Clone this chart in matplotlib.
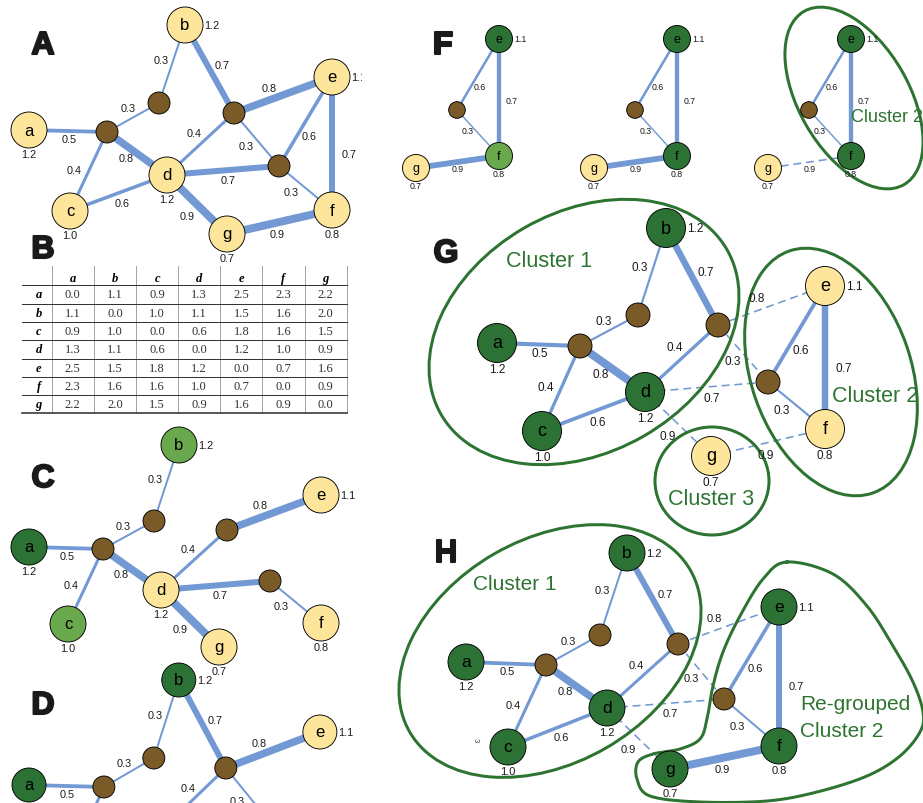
import numpy as np
import matplotlib.pyplot as plt
from matplotlib.patches import Circle, Ellipse, Rectangle
import matplotlib.patheffects as pe

plt.rcParams['font.family'] = ['Liberation Sans', 'DejaVu Sans']

# ---------------- data ----------------
letters = ['a', 'b', 'c', 'd', 'e', 'f', 'g']
letter_values = [1.2, 1.2, 1.0, 1.2, 1.1, 0.8, 0.7]
hubs = ['h1', 'h2', 'h3', 'h4']

edge_pairs = [('a', 'h1'), ('h1', 'h2'), ('h2', 'b'), ('h1', 'c'), ('h1', 'd'), ('c', 'd'),
              ('b', 'h3'), ('h3', 'e'), ('h3', 'd'), ('h3', 'h4'), ('d', 'h4'), ('h4', 'e'),
              ('h4', 'f'), ('e', 'f'), ('d', 'g'), ('g', 'f')]
edge_weights = [0.5, 0.3, 0.3, 0.4, 0.8, 0.6, 0.7, 0.8, 0.4, 0.3, 0.7, 0.6, 0.3, 0.7, 0.9, 0.9]

# distance table (panel B)
dist = [[0.0, 1.1, 0.9, 1.3, 2.5, 2.3, 2.2],
        [1.1, 0.0, 1.0, 1.1, 1.5, 1.6, 2.0],
        [0.9, 1.0, 0.0, 0.6, 1.8, 1.6, 1.5],
        [1.3, 1.1, 0.6, 0.0, 1.2, 1.0, 0.9],
        [2.5, 1.5, 1.8, 1.2, 0.0, 0.7, 1.6],
        [2.3, 1.6, 1.6, 1.0, 0.7, 0.0, 0.9],
        [2.2, 2.0, 1.5, 0.9, 1.6, 0.9, 0.0]]

# node layouts (pixel positions of each panel)
layout_A = {'a': (29, 131), 'b': (185, 26), 'c': (70, 212), 'd': (167, 176), 'e': (332, 78),
            'f': (332, 211), 'g': (227, 235), 'h1': (107, 133), 'h2': (159, 104),
            'h3': (234, 114), 'h4': (279, 167)}
layout_C = {'a': (29, 548), 'b': (179, 446), 'c': (68, 625), 'd': (161, 591), 'e': (321, 496),
            'f': (321, 624), 'g': (219, 648), 'h1': (103, 550), 'h2': (154, 522),
            'h3': (227, 531), 'h4': (270, 582)}
layout_D = {k: (29 + (x - 29) * 0.96, y + 655) for k, (x, y) in layout_A.items()}
layout_F = {'e': (499, 40), 'h4': (457, 111), 'f': (499, 157), 'g': (416, 169)}
layout_G = {'a': (497, 344), 'b': (666, 229), 'c': (542, 432), 'd': (645, 393), 'e': (825, 287),
            'f': (825, 430), 'g': (711, 457), 'h1': (580, 347), 'h2': (638, 316),
            'h3': (718, 326), 'h4': (768, 383)}
layout_H = {'a': (466, 663), 'b': (627, 554), 'c': (508, 748), 'd': (607, 709), 'e': (779, 608),
            'f': (779, 747), 'g': (670, 770), 'h1': (546, 666), 'h2': (600, 636),
            'h3': (678, 645), 'h4': (724, 700)}

# outline of the re-grouped cluster in H
regroup_outline = [(787, 563), (833, 575), (867, 607), (893, 647), (913, 683), (923, 713),
                   (920, 733), (900, 757), (867, 777), (817, 793), (767, 802), (700, 803),
                   (650, 797), (637, 780), (638, 763), (653, 755), (680, 750), (700, 740),
                   (707, 720), (713, 687), (723, 653), (740, 617), (763, 580)]

# ---------------- style ----------------
YEL = '#FDE59B'
DKG = '#2C7234'
LTG = '#69A84D'
HUB = '#7A5A27'
EDGE = '#7299D3'
CLU = '#2E7431'
PX = 0.72  # points per pixel

WIDTH_PX = {0.3: 2.0, 0.4: 3.0, 0.5: 3.8, 0.6: 3.5, 0.7: 6.0, 0.8: 7.5, 0.9: 8.0}
LABEL_OFF = {('a', 'h1'): (1, 8), ('h1', 'h2'): (-5, -9), ('h2', 'b'): (-11, -4),
             ('h1', 'c'): (-14, -1), ('h1', 'd'): (-11, 5), ('c', 'd'): (4, 10),
             ('b', 'h3'): (13, -4), ('h3', 'e'): (-14, -7), ('h3', 'd'): (-6, -11),
             ('h3', 'h4'): (-10, 7), ('d', 'h4'): (5, 10), ('h4', 'e'): (4, 15),
             ('h4', 'f'): (-14, 4), ('e', 'f'): (17, 10), ('d', 'g'): (-10, 11),
             ('g', 'f'): (-2, 12)}
F_OFF = {('h4', 'e'): (2, 12), ('h4', 'f'): (-10, -2), ('e', 'f'): (13, 3), ('g', 'f'): (0, 7)}

fig = plt.figure(figsize=(9.23, 8.04), dpi=100)
ax = fig.add_axes([0, 0, 1, 1])
ax.set_xlim(0, 923)
ax.set_ylim(804, 0)
ax.axis('off')


def draw_graph(pos, colors, r_big, r_hub, scale, fs_node, fs_lab, dashed=(), hidden=(),
               offsets=None, clip=None):
    for (u, v), w in zip(edge_pairs, edge_weights):
        if u not in pos or v not in pos or (u, v) in hidden:
            continue
        (x1, y1), (x2, y2) = pos[u], pos[v]
        if (u, v) in dashed:
            ax.plot([x1, x2], [y1, y2], color=EDGE, lw=1.6 * PX, dashes=(5, 3), zorder=1)
        else:
            ax.plot([x1, x2], [y1, y2], color=EDGE, lw=WIDTH_PX[w] * scale * PX, zorder=1,
                    solid_capstyle='butt')
        if offsets is not None:
            dx, dy = offsets[(u, v)]
        else:
            dx, dy = LABEL_OFF[(u, v)][0] * scale, LABEL_OFF[(u, v)][1] * scale
        ax.text((x1 + x2) / 2 + dx, (y1 + y2) / 2 + dy, f'{w:.1f}', fontsize=fs_lab,
                ha='center', va='center', color='#1a1a1a', zorder=5)
    for h in hubs:
        if h in pos:
            ax.add_patch(Circle(pos[h], r_hub, fc=HUB, ec='black', lw=0.9 * PX, zorder=3))
    for name, val in zip(letters, letter_values):
        if name not in pos:
            continue
        x, y = pos[name]
        ax.add_patch(Circle((x, y), r_big, fc=colors.get(name, YEL), ec='black',
                            lw=0.9 * PX, zorder=3))
        ax.text(x, y, name, fontsize=fs_node, ha='center', va='center', zorder=4)
        if name in ('b', 'e'):
            t = ax.text(x + r_big + 1.5, y, f'{val:.1f}', fontsize=fs_lab, ha='left',
                        va='center', color='#1a1a1a', zorder=5)
        else:
            t = ax.text(x, y + r_big + 6 * scale, f'{val:.1f}', fontsize=fs_lab, ha='center',
                        va='center', color='#1a1a1a', zorder=5)
        if clip is not None:
            t.set_clip_path(clip)
            t.set_clip_on(True)


def panel_letter(x, y, s):
    ax.text(x, y, s, fontsize=23, fontweight='bold', ha='center', va='baseline',
            color='#1a1a1a', path_effects=[pe.withStroke(linewidth=1.5, foreground='#1a1a1a')])


def smooth_closed(pts, n=16):
    p = np.asarray(pts, float)
    m = len(p)
    t = np.linspace(0, 1, n, endpoint=False)[:, None]
    out = []
    for i in range(m):
        p0, p1, p2, p3 = p[i - 1], p[i], p[(i + 1) % m], p[(i + 2) % m]
        out.append(0.5 * (2 * p1 + (-p0 + p2) * t + (2 * p0 - 5 * p1 + 4 * p2 - p3) * t ** 2
                          + (-p0 + 3 * p1 - 3 * p2 + p3) * t ** 3))
    out = np.vstack(out)
    return np.vstack([out, out[:1]])


# ---- A ----
clipA = Rectangle((0, 0), 362, 275, transform=ax.transData)
draw_graph(layout_A, {}, 18, 11, 1.0, 12, 7.8, clip=clipA)
panel_letter(43, 55, 'A')

# ---- B (table) ----
panel_letter(43, 259, 'B')
x_left, x_lab, col_w = 22, 51.7, 42.15
y_top, y_head, row_h = 267, 286.3, 18.3
for j in range(8):
    xv = x_lab + j * col_w
    ax.plot([xv, xv], [y_top, y_head + 7 * row_h], color='#9a9a9a', lw=0.9 * PX, zorder=1)
for i in range(8):
    yv = y_head + i * row_h
    ax.plot([x_left, x_lab + 7 * col_w], [yv, yv], color='#333333',
            lw=(1.6 if i == 7 else 1.0) * PX, zorder=2)
for j, name in enumerate(letters):
    ax.text(x_lab + (j + 0.5) * col_w, (y_top + y_head) / 2 + 2, name, family='Liberation Serif',
            fontsize=9, fontweight='bold', style='italic', ha='center', va='center')
for i, name in enumerate(letters):
    yc = y_head + (i + 0.5) * row_h
    ax.text((x_left + x_lab) / 2 + 2, yc, name, family='Liberation Serif', fontsize=9,
            fontweight='bold', style='italic', ha='center', va='center')
    for j in range(7):
        ax.text(x_lab + (j + 0.5) * col_w, yc, f'{dist[i][j]:.1f}', family='Liberation Serif',
                fontsize=9, ha='center', va='center', color='#333333')

# ---- C ----
draw_graph(layout_C, {'a': DKG, 'b': LTG, 'c': LTG}, 18, 11, 1.0, 12, 7.8,
           hidden={('c', 'd'), ('b', 'h3'), ('h3', 'h4'), ('h4', 'e'), ('e', 'f'), ('g', 'f')})
panel_letter(43, 488, 'C')

# ---- D ----
draw_graph(layout_D, {'a': DKG, 'b': DKG}, 17, 11, 1.0, 12, 7.8,
           hidden={('h1', 'd'), ('c', 'd'), ('h4', 'e'), ('e', 'f')})
panel_letter(43, 715, 'D')

# ---- F ----
for k, (shift, cols, dsh) in enumerate([(0, {'e': DKG, 'f': LTG}, ()),
                                        (178, {'e': DKG, 'f': DKG}, ()),
                                        (352, {'e': DKG, 'f': DKG}, {('g', 'f')})]):
    pos = {n: (x + shift, y) for n, (x, y) in layout_F.items()}
    draw_graph(pos, cols, 13.5, 8.3, 0.72, 9, 6.3, dashed=dsh, offsets=F_OFF)
panel_letter(443, 55, 'F')
ax.add_patch(Ellipse((854, 99), 200, 110, angle=60, fill=False, ec=CLU, lw=3 * PX, zorder=2))
ax.text(851, 118, 'Cluster 2', fontsize=13, color=CLU, ha='left', va='center', zorder=5)

# ---- G ----
draw_graph(layout_G, {'a': DKG, 'b': DKG, 'c': DKG, 'd': DKG}, 19.5, 12, 1.08, 13, 8.5,
           dashed={('h3', 'e'), ('h3', 'h4'), ('d', 'h4'), ('d', 'g'), ('g', 'f')})
panel_letter(446, 263, 'G')
ax.add_patch(Ellipse((584, 333), 330, 240, angle=-30, fill=False, ec=CLU, lw=3 * PX, zorder=2))
ax.add_patch(Ellipse((831, 373), 256, 160, angle=71, fill=False, ec=CLU, lw=3 * PX, zorder=2))
ax.add_patch(Ellipse((712, 482), 114, 108, angle=0, fill=False, ec=CLU, lw=3 * PX, zorder=2))
ax.text(549, 262, 'Cluster 1', fontsize=15.5, color=CLU, ha='center', va='center', zorder=5)
ax.text(875, 397, 'Cluster 2', fontsize=15.5, color=CLU, ha='center', va='center', zorder=5)
ax.text(711, 500, 'Cluster 3', fontsize=15.5, color=CLU, ha='center', va='center', zorder=5)

# ---- H ----
draw_graph(layout_H, {n: DKG for n in letters}, 18, 11, 1.0, 12.5, 8,
           dashed={('h3', 'e'), ('h3', 'h4'), ('d', 'h4'), ('d', 'g')})
panel_letter(446, 563, 'H')
ax.add_patch(Ellipse((550, 652), 324, 224, angle=-30, fill=False, ec=CLU, lw=3 * PX, zorder=2))
curve = smooth_closed(regroup_outline)
ax.plot(curve[:, 0], curve[:, 1], color=CLU, lw=3 * PX, zorder=2)
ax.text(515, 585, 'Cluster 1', fontsize=15, color=CLU, ha='center', va='center', zorder=5)
ax.text(800, 705, 'Re-grouped', fontsize=15, color=CLU, ha='left', va='center', zorder=5)
ax.text(800, 732, 'Cluster 2', fontsize=15, color=CLU, ha='left', va='center', zorder=5)
ax.text(475, 740, '3', fontsize=5.5, rotation=-90, ha='center', va='center', color='#444444')

fig.savefig('out.png', dpi=100)
